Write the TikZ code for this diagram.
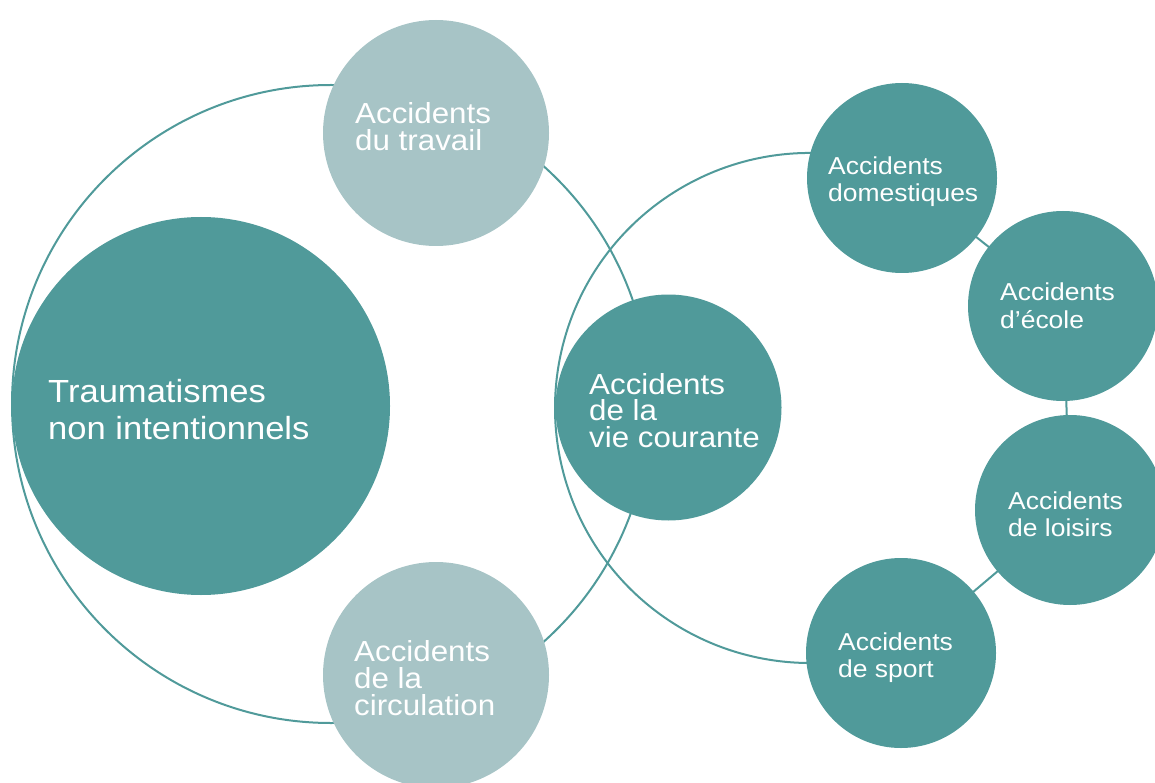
\documentclass[tikz,border=0pt]{standalone}
\usepackage{fontspec}
\setmainfont{Liberation Sans}[FakeStretch=1.08]
\definecolor{tealdark}{HTML}{509A9A}
\definecolor{teallight}{HTML}{A7C4C6}
\begin{document}
\begin{tikzpicture}[x=1pt,y=-1pt,
  ring/.style={circle, draw=tealdark, line width=2pt, inner sep=0pt},
  arcline/.style={draw=tealdark, line width=2pt},
  disc/.style={circle, fill=tealdark, inner sep=0pt},
  softdisc/.style={circle, fill=teallight, inner sep=0pt},
  link/.style={draw=tealdark, line width=2pt},
  lab/.style={anchor=north west, inner sep=0pt, text=white, align=left},
  bigtxt/.style={font=\fontsize{29}{27}\selectfont},
  smalltxt/.style={font=\fontsize{24.5}{26.5}\selectfont}]
\useasboundingbox (0,0) rectangle (1155,783);

% outer ring round the first group
\node[ring, minimum size=638pt] (ringA) at (331,404) {};
% open arc round the second group (left half only, centre 810,408, r 255)
\draw[arcline] (854.28,156.87) arc[start angle=80, end angle=280, radius=255pt];

% links between the small discs, centre to centre, hidden under the discs
\coordinate (cDom) at (902,178);
\coordinate (cEcole) at (1063,306);
\coordinate (cLoisirs) at (1070,510);
\coordinate (cSport) at (901,653);
\draw[link] (cDom) -- (cEcole) -- (cLoisirs) -- (cSport);

% main discs
\node[disc, minimum size=378pt] (trauma) at (201,406) {};
\node[softdisc, minimum size=226pt] (travail) at (436,133) {};
\node[softdisc, minimum size=226pt] (circ) at (436,675) {};
\node[disc, minimum size=226pt] (vie) at (668.5,407.5) {};

% small discs
\node[disc, minimum size=190pt] (dom) at (cDom) {};
\node[disc, minimum size=190pt] (ecole) at (cEcole) {};
\node[disc, minimum size=190pt] (loisirs) at (cLoisirs) {};
\node[disc, minimum size=190pt] (sport) at (cSport) {};

% labels
\node[lab, font=\fontsize{32}{37}\selectfont] (tTrauma) at (48,379) {Traumatismes\\non intentionnels};
\node[lab, bigtxt] (tTravail) at (355,102) {Accidents\\du travail};
\node[lab, bigtxt] (tCirc) at (354,640) {Accidents\\de la\\circulation};
\node[lab, font=\fontsize{29}{26.5}\selectfont] (tVie) at (589,373) {Accidents\\de la\\vie courante};
\node[lab, smalltxt] (tDom) at (828,157) {Accidents\\domestiques};
\node[lab, font=\fontsize{24.5}{28}\selectfont] (tEcole) at (1000,283) {Accidents\\d’école};
\node[lab, smalltxt] (tLoisirs) at (1008,492) {Accidents\\de loisirs};
\node[lab, smalltxt] (tSport) at (838,633) {Accidents\\de sport};
\end{tikzpicture}
\end{document}
